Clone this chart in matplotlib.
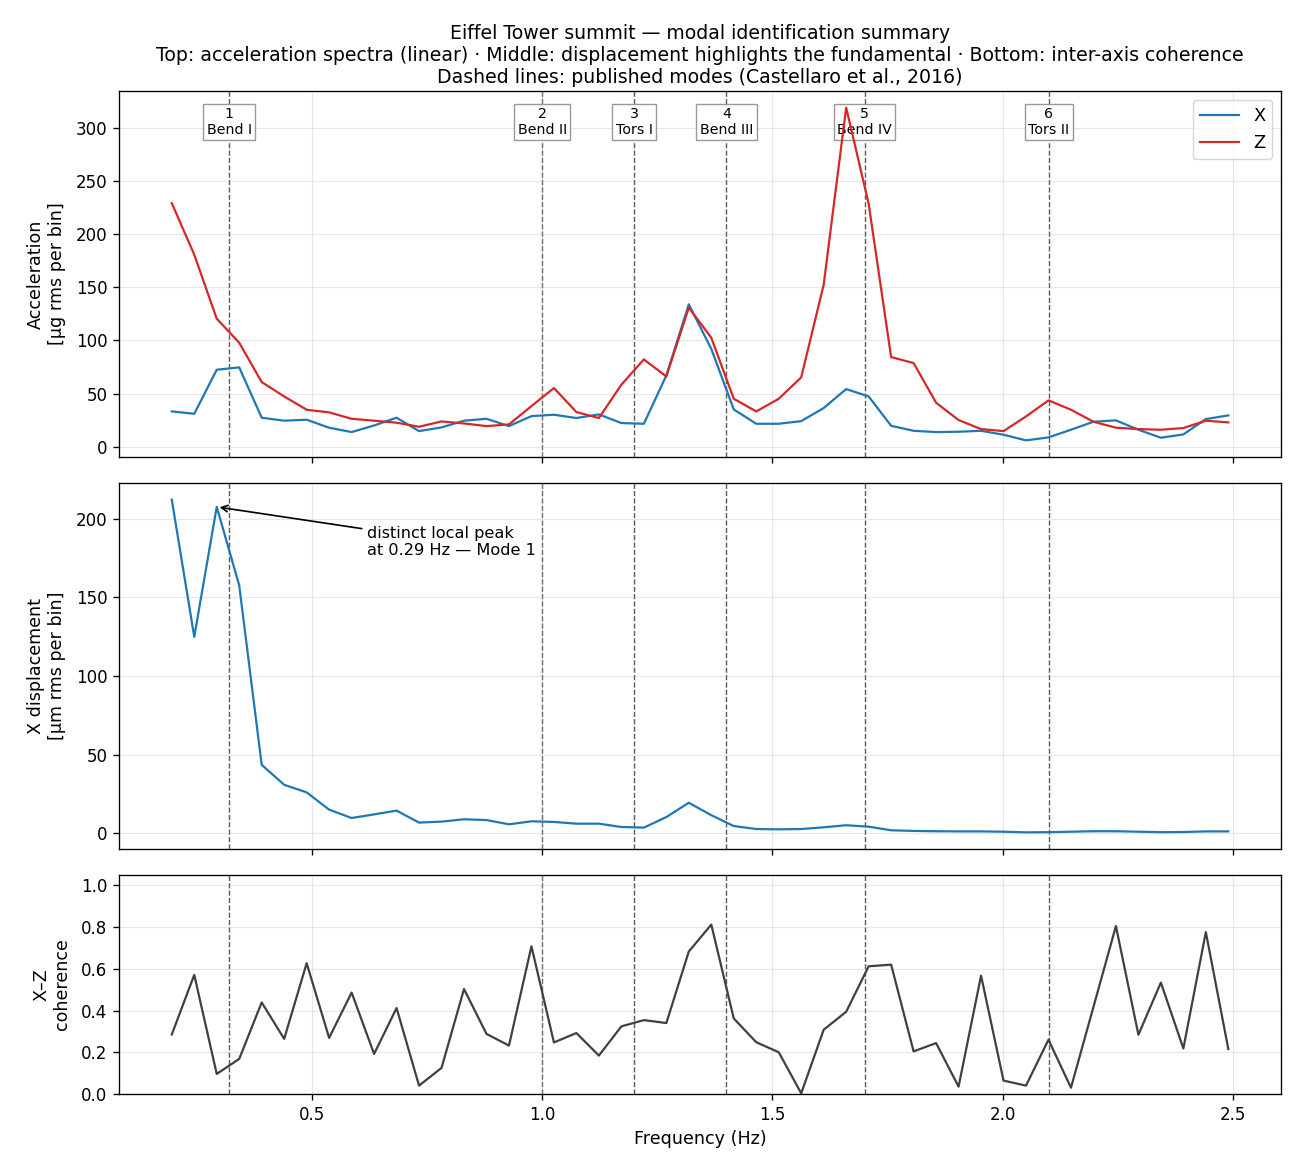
import numpy as np
import matplotlib
matplotlib.use("Agg")
import matplotlib.pyplot as plt

# frequency bins (df = 1/20.48 Hz), k = 4..51
freq = np.arange(4, 52) / 20.48

acc_x = [33.2, 31.0, 72.4, 74.6, 27.3, 24.5, 25.4, 17.9, 13.8, 20.0,
         27.3, 14.7, 18.2, 24.5, 26.3, 19.4, 28.8, 30.1, 27.0, 30.4,
         22.3, 21.6, 67.0, 133.9, 92.0, 35.1, 21.6, 21.6, 24.1, 36.4,
         54.2, 47.3, 19.7, 15.0, 13.8, 14.1, 15.0, 11.3, 6.0, 8.8,
         16.0, 23.5, 24.8, 16.0, 8.5, 11.6, 26.0, 29.5]

acc_z = [229.0, 180.6, 120.4, 97.8, 60.8, 47.3, 34.8, 32.3, 26.3, 24.5,
         22.6, 18.8, 23.8, 21.9, 19.4, 21.0, 38.2, 55.2, 32.6, 27.0,
         58.3, 82.1, 66.1, 130.7, 102.5, 45.1, 33.2, 45.1, 65.2, 152.4,
         318.8, 228.5, 84.3, 78.7, 41.4, 25.1, 16.6, 14.7, 28.5, 43.6,
         34.8, 23.5, 17.9, 16.6, 16.0, 17.6, 24.5, 22.9]

disp_x = [212.0, 124.8, 207.4, 157.5, 43.5, 30.8, 26.0, 15.0, 9.7, 12.0,
          14.4, 6.8, 7.4, 8.9, 8.4, 5.7, 7.6, 7.2, 6.1, 6.1,
          4.0, 3.6, 10.3, 19.4, 11.5, 4.6, 2.7, 2.5, 2.7, 3.8,
          5.1, 4.2, 1.9, 1.5, 1.3, 1.2, 1.2, 1.0, 0.6, 0.7,
          1.0, 1.3, 1.3, 1.0, 0.7, 0.8, 1.2, 1.2]

coh = [0.285, 0.571, 0.096, 0.168, 0.439, 0.264, 0.627, 0.269, 0.486, 0.192,
       0.412, 0.040, 0.125, 0.503, 0.288, 0.232, 0.708, 0.247, 0.292, 0.184,
       0.324, 0.354, 0.340, 0.683, 0.812, 0.362, 0.248, 0.200, 0.003, 0.308,
       0.394, 0.612, 0.620, 0.204, 0.244, 0.035, 0.567, 0.064, 0.040, 0.260,
       0.030, 0.417, 0.805, 0.284, 0.534, 0.218, 0.776, 0.215]

mode_freq = [0.32, 1.00, 1.20, 1.40, 1.70, 2.10]
mode_name = ["Bend I", "Bend II", "Tors I", "Bend III", "Bend IV", "Tors II"]

plt.rcParams["axes.linewidth"] = 0.96

fig, axes = plt.subplots(3, 1, figsize=(13, 11.7), dpi=100, sharex=True,
                         gridspec_kw=dict(height_ratios=[366, 366, 219]))
fig.subplots_adjust(left=0.0915, right=0.9855, top=0.9222, bottom=0.065, hspace=0.082)

lab = 12.6
ax1, ax2, ax3 = axes
ax1.plot(freq, acc_x, color="tab:blue", lw=1.6, label="X")
ax1.plot(freq, acc_z, color="tab:red", lw=1.6, label="Z")
ax1.set_ylabel("Acceleration\n[µg rms per bin]", fontsize=lab, labelpad=7)
ax1.legend(loc="upper right", fontsize=12.8, handlelength=2.2)

ax2.plot(freq, disp_x, color="tab:blue", lw=1.6)
ax2.set_ylabel("X displacement\n[µm rms per bin]", fontsize=lab, labelpad=7)
ax2.annotate("distinct local peak\nat 0.29 Hz — Mode 1", xy=(freq[2], disp_x[2]),
             xytext=(0.62, 185), va="center", fontsize=11.6,
             arrowprops=dict(arrowstyle="->", color="black", lw=1.2))

ax3.plot(freq, coh, color="#404040", lw=1.6)
ax3.set_ylim(0, 1.05)
ax3.set_ylabel("X–Z\ncoherence", fontsize=lab, labelpad=7)
ax3.set_xlabel("Frequency (Hz)", fontsize=lab, labelpad=4.8)

for ax in axes:
    ax.grid(True, alpha=0.3)
    ax.tick_params(labelsize=12, length=4.2, pad=4.2, width=0.96)
    for f in mode_freq:
        ax.axvline(f, color="0.35", ls="--", lw=1, zorder=1.4)

for i, (f, name) in enumerate(zip(mode_freq, mode_name)):
    ax1.text(f, 0.955, f"{i + 1}\n{name}", transform=ax1.get_xaxis_transform(),
             ha="center", va="top", fontsize=10.2, linespacing=1.1, zorder=1.6,
             bbox=dict(boxstyle="square,pad=0.25", fc="white", ec="0.6"))

ax1.set_title("Eiffel Tower summit — modal identification summary\n"
              "Top: acceleration spectra (linear) · Middle: displacement highlights the fundamental · Bottom: inter-axis coherence\n"
              "Dashed lines: published modes (Castellaro et al., 2016)", fontsize=13.6,
              linespacing=1.2, pad=6)

fig.savefig("out.png")
